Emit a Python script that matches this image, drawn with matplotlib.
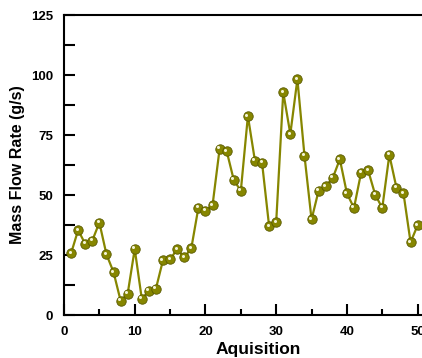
import numpy as np
import matplotlib
matplotlib.use('Agg')
import matplotlib.pyplot as plt
from matplotlib.ticker import MultipleLocator
from matplotlib.transforms import offset_copy

acq = list(range(1, 51))
flow = [25.7, 35.4, 29.6, 31.0, 38.5, 25.3, 17.9, 6.0, 8.8, 27.5,
        6.7, 10.1, 11.0, 22.9, 23.2, 27.4, 24.0, 27.8, 44.7, 43.5,
        45.7, 69.2, 68.3, 56.3, 51.7, 82.9, 64.2, 63.5, 37.0, 38.6,
        92.8, 75.4, 98.3, 66.4, 39.8, 51.8, 53.7, 57.1, 64.9, 50.7,
        44.6, 59.2, 60.3, 50.1, 44.6, 66.7, 53.1, 50.7, 30.3, 37.4]

plt.rcParams['font.family'] = ['Liberation Sans', 'DejaVu Sans']
plt.rcParams['font.weight'] = 'bold'

fig = plt.figure(figsize=(4.22, 3.58), dpi=100)
# axes run off the right edge of the figure, like the cropped original
ax = fig.add_axes([64 / 422, 43 / 358, 389 / 422, 300 / 358])

olive = '#868600'
ax.plot(acq, flow, color=olive, lw=1.6, zorder=2)
ax.plot(acq, flow, 'o', ms=6.8, mfc=olive, mec='#5a5a00', mew=0.6, zorder=3)
# little white glint on each ball
glint = offset_copy(ax.transData, fig=fig, x=-1.1, y=1.1, units='points')
ax.plot(acq, flow, 'o', ms=2.2, mfc='#f4f4d8', mec='none', transform=glint, zorder=4)

ax.set_xlim(0, 55)
ax.set_ylim(0, 125)
ax.xaxis.set_major_locator(MultipleLocator(10))
ax.xaxis.set_minor_locator(MultipleLocator(5))
ax.yaxis.set_major_locator(MultipleLocator(25))
ax.yaxis.set_minor_locator(MultipleLocator(12.5))

for s in ax.spines.values():
    s.set_linewidth(1.5)
ax.tick_params(which='both', direction='in', width=1.5, labelsize=9.5, top=False, right=False)
ax.tick_params(axis='x', which='major', length=8, pad=8)
ax.tick_params(axis='x', which='minor', length=4.5)
ax.tick_params(axis='y', which='both', length=8, pad=8)

ax.set_xlabel('Aquisition', fontsize=12.5, fontweight='bold', labelpad=2.5)
ax.set_ylabel('Mass Flow Rate (g/s)', fontsize=11.5, fontweight='bold', labelpad=4)

fig.savefig('out.png', dpi=100)
